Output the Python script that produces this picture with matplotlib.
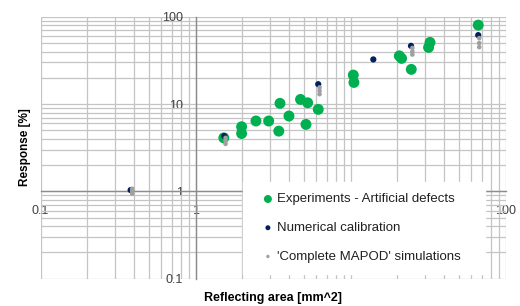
# Log-log scatter of response vs reflecting area (Excel style, axes crossing at 1).

import numpy as np
import matplotlib.pyplot as plt
from matplotlib.ticker import FixedLocator, FuncFormatter, NullFormatter, LogLocator

plt.rcParams['font.family'] = ['Liberation Sans', 'DejaVu Sans']

# Data.
exp_area = [1.52, 1.98, 1.98, 2.45, 2.96, 3.44, 3.50, 4.0, 4.75, 5.28, 5.15, 6.18,
            10.4, 10.5, 20.6, 21.3, 24.6, 32.5, 31.8, 66.5]
exp_resp = [4.1, 5.5, 4.6, 6.4, 6.4, 4.9, 10.2, 7.3, 11.3, 10.35, 5.85, 8.7,
            21.5, 17.7, 35.7, 33.4, 25.0, 50.9, 44.6, 80.4]

num_area = [0.381, 1.53, 6.18, 14.0, 24.5, 66.5]
num_resp = [1.035, 4.3, 16.9, 32.5, 46.5, 61.7]

sim_area = [0.39, 0.39, 0.39, 1.56, 1.56, 1.56, 6.3, 6.3, 6.3, 25.0, 25.0, 25.0, 67.5, 67.5, 67.5]
sim_resp = [1.07, 1.0, 0.94, 4.1, 3.8, 3.5, 15.5, 14.2, 13.0, 44.0, 40.0, 37.0, 57.0, 50.0, 45.0]

tick_vals = [0.1, 1, 10, 100]
tick_text = ['0.1', '1', '10', '100']

# Figure.
fig = plt.figure(figsize=(5.2, 3.06), dpi=100)
ax = fig.add_subplot(1, 1, 1)
plt.subplots_adjust(left=0.078, right=0.9725, top=0.945, bottom=0.0895)

ax.scatter(exp_area, exp_resp, s=62, color='#00B050', edgecolors='none', zorder=3,
           label='Experiments - Artificial defects')
ax.scatter(num_area, num_resp, s=20, color='#002060', edgecolors='none', zorder=4,
           label='Numerical calibration')
ax.scatter(sim_area, sim_resp, s=11, color='#A0A0A0', edgecolors='none', zorder=5,
           label="'Complete MAPOD' simulations")

ax.set_xscale('log')
ax.set_yscale('log')
ax.set_xlim(0.1, 100)
ax.set_ylim(0.1, 100)

# Ticks and grid.
for axis in (ax.xaxis, ax.yaxis):
    axis.set_major_locator(FixedLocator(tick_vals))
    axis.set_major_formatter(FuncFormatter(lambda v, p: tick_text[tick_vals.index(v)] if v in tick_vals else ''))
    axis.set_minor_locator(LogLocator(base=10, subs=np.arange(2, 10)))
    axis.set_minor_formatter(NullFormatter())
ax.grid(True, which='both', color='#C4C4C4', linewidth=0.9, zorder=0)
ax.set_axisbelow(True)
ax.tick_params(axis='both', which='both', length=0, labelsize=9, labelcolor='#404040')
ax.tick_params(axis='x', pad=10)
ax.tick_params(axis='y', pad=9)

# Axes crossing at 1.
ax.spines['left'].set_position(('data', 1))
ax.spines['bottom'].set_position(('data', 1))
for side in ('left', 'bottom'):
    ax.spines[side].set_color('#8C8C8C')
    ax.spines[side].set_linewidth(1.0)
for side in ('top', 'right'):
    ax.spines[side].set_visible(False)

# Legend.
leg = ax.legend(loc='upper left', bbox_to_anchor=(0.435, 0.369, 0.52, 0.0), mode='expand',
                frameon=True, framealpha=1, edgecolor='white', fancybox=False,
                fontsize=9.5, labelspacing=1.25, handletextpad=-0.36, borderpad=0.85,
                borderaxespad=0, handlelength=2.09, scatterpoints=1)
leg.set_zorder(10)
hs = leg.legend_handles
hs[0].set_sizes([33])
hs[1].set_sizes([13])
hs[2].set_sizes([6])
for t in leg.get_texts():
    t.set_color('#202020')

# Axis titles.
fig.text(273 / 520, 1 - 298 / 306, 'Reflecting area [mm^2]', fontsize=9, fontweight='bold',
         ha='center', va='center')
fig.text(25 / 520, 1 - 147 / 306, 'Response [%]', fontsize=8.5, fontweight='bold',
         ha='center', va='center', rotation=90)

plt.savefig('out.png', dpi=100)
